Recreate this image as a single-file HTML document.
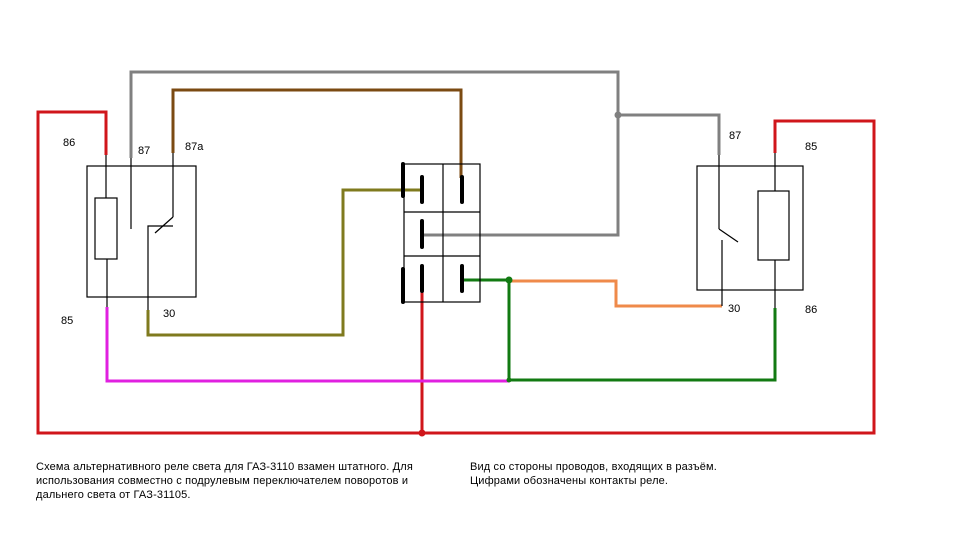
<!DOCTYPE html>
<html><head><meta charset="utf-8"><style>
body{margin:0;background:#fff;width:960px;height:540px;overflow:hidden}
svg{display:block}
text{font-family:"Liberation Sans","DejaVu Sans",sans-serif;font-size:11px;fill:#000}
.t{letter-spacing:0.15px}
</style></head><body>
<svg width="960" height="540" viewBox="0 0 960 540" xmlns="http://www.w3.org/2000/svg">
<g fill="none" stroke-width="3" stroke-linejoin="miter">
<polyline stroke="#d0161b" points="106,155 106,112 38,112 38,433 874,433 874,121 775,121 775,153"/>
<line stroke="#d0161b" x1="422" y1="292" x2="422" y2="433"/>
<polyline stroke="#808080" points="131,158 131,72 618,72 618,235 422,235"/>
<polyline stroke="#808080" points="618,115 719,115 719,155"/>
<polyline stroke="#7b4a12" points="173,153 173,90 461,90 461,178"/>
<polyline stroke="#7f7a1e" points="148,310 148,335 343,335 343,190 420,190"/>
<polyline stroke="#e020e0" points="107,307 107,381 509,381"/>
<polyline stroke="#127a12" points="462,280 509,280 509,380 775,380 775,308"/>
<polyline stroke="#ef8a4a" points="509,281 616,281 616,306 722,306"/>
</g>
<circle cx="422" cy="433" r="3.5" fill="#d0161b"/>
<circle cx="618" cy="115" r="3.5" fill="#808080"/>
<circle cx="509" cy="280" r="3.5" fill="#127a12"/>
<circle cx="509" cy="380" r="2.5" fill="#127a12"/>
<g fill="none" stroke="#000" stroke-width="1.2">
<rect x="87" y="166" width="109" height="131"/>
<rect x="95" y="198" width="22" height="61"/>
<line x1="106" y1="155" x2="106" y2="198"/>
<line x1="107" y1="259" x2="107" y2="307"/>
<line x1="131" y1="158" x2="131" y2="229"/>
<line x1="173" y1="153" x2="173" y2="217"/>
<line x1="173" y1="217" x2="155" y2="233"/>
<polyline points="148,310 148,226 173,226"/>
<rect x="697" y="166" width="106" height="124"/>
<rect x="758" y="191" width="31" height="69"/>
<line x1="775" y1="153" x2="775" y2="191"/>
<line x1="775" y1="260" x2="775" y2="308"/>
<line x1="719" y1="155" x2="719" y2="229"/>
<line x1="719" y1="229" x2="738" y2="242"/>
<line x1="722" y1="240" x2="722" y2="306"/>
<rect x="404" y="164" width="76" height="138"/>
<line x1="443" y1="164" x2="443" y2="302"/>
<line x1="404" y1="212" x2="480" y2="212"/>
<line x1="404" y1="256" x2="480" y2="256"/>
</g>
<g stroke="#000" stroke-width="4" stroke-linecap="round">
<line x1="403" y1="164" x2="403" y2="196"/>
<line x1="403" y1="269" x2="403" y2="302"/>
<line x1="422" y1="177" x2="422" y2="202"/>
<line x1="422" y1="221" x2="422" y2="247"/>
<line x1="422" y1="266" x2="422" y2="291"/>
<line x1="462" y1="177" x2="462" y2="202"/>
<line x1="462" y1="266" x2="462" y2="291"/>
</g>
<text x="63" y="146">86</text>
<text x="138" y="154">87</text>
<text x="185" y="150">87a</text>
<text x="61" y="324">85</text>
<text x="163" y="317">30</text>
<text x="729" y="139">87</text>
<text x="805" y="150">85</text>
<text x="728" y="312">30</text>
<text x="805" y="313">86</text>
<text class="t" x="36" y="470">Схема альтернативного реле света для ГАЗ-3110 взамен штатного. Для</text>
<text class="t" x="36" y="484">использования совместно с подрулевым переключателем поворотов и</text>
<text class="t" x="36" y="498">дальнего света от ГАЗ-31105.</text>
<text class="t" x="470" y="470">Вид со стороны проводов, входящих в разъём.</text>
<text class="t" x="470" y="484">Цифрами обозначены контакты реле.</text>
</svg>
</body></html>
